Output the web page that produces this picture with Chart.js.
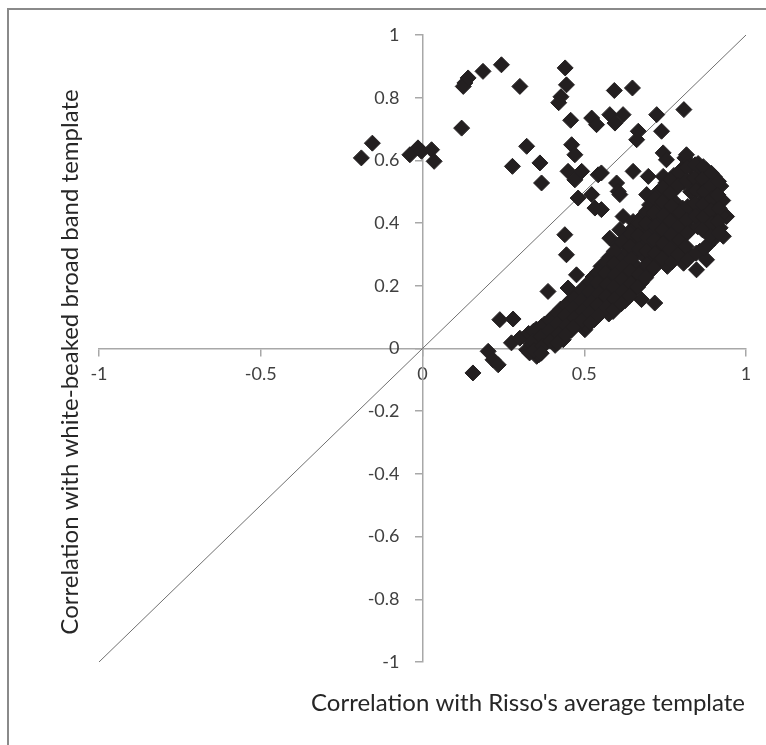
<!DOCTYPE html>
<html>
<head>
<meta charset="utf-8">
<script src="https://cdn.jsdelivr.net/npm/chart.js@4.4.1/dist/chart.umd.min.js"></script>
<style>
  html, body { margin: 0; padding: 0; background: #fff; }
  #wrap { position: relative; width: 766px; height: 745px; overflow: hidden; }
  #frame { position: absolute; left: 7px; top: 8px; width: 820px; height: 820px;
           border-left: 2px solid #8a8a8a; border-top: 2px solid #8a8a8a; }
  canvas { position: absolute; left: 0; top: 0; }
</style>
</head>
<body>
<div id="wrap">
  <div id="frame"></div>
  <canvas id="chart" width="766" height="745"></canvas>
</div>
<script>
// Each pair: [correlation with Risso's average template, correlation with white-beaked broad band template]
const upperScatter = [
  [-0.189, 0.608], [-0.155, 0.655], [-0.039, 0.618], [-0.014, 0.640], [-0.003, 0.629],
  [0.028, 0.634], [0.036, 0.597], [0.121, 0.703], [0.131, 0.847], [0.126, 0.836],
  [0.141, 0.863], [0.187, 0.884], [0.244, 0.905], [0.301, 0.836], [0.278, 0.581],
  [0.322, 0.645], [0.363, 0.592], [0.368, 0.528], [0.441, 0.895], [0.445, 0.841],
  [0.428, 0.803], [0.421, 0.784], [0.458, 0.728], [0.461, 0.650], [0.471, 0.618],
  [0.450, 0.565], [0.471, 0.538], [0.492, 0.565], [0.481, 0.480], [0.523, 0.735],
  [0.538, 0.714], [0.523, 0.491], [0.533, 0.448], [0.543, 0.554], [0.553, 0.560],
  [0.579, 0.746], [0.595, 0.719], [0.593, 0.823], [0.620, 0.746], [0.649, 0.831],
  [0.600, 0.528], [0.605, 0.501], [0.610, 0.491], [0.651, 0.565], [0.667, 0.693],
  [0.662, 0.666], [0.724, 0.746], [0.739, 0.693], [0.808, 0.762]
];

const rightScatter = [
  [0.553, 0.443], [0.579, 0.352], [0.610, 0.379], [0.620, 0.421], [0.651, 0.405],
  [0.651, 0.384], [0.698, 0.549], [0.693, 0.491], [0.703, 0.369], [0.734, 0.411],
  [0.739, 0.453], [0.744, 0.549], [0.744, 0.624], [0.749, 0.464], [0.754, 0.602],
  [0.765, 0.448], [0.811, 0.608], [0.816, 0.618], [0.821, 0.592], [0.847, 0.251],
  [0.878, 0.283], [0.930, 0.358], [0.940, 0.421], [0.677, 0.156], [0.718, 0.145],
  [0.589, 0.118]
];

const lowerTail = [
  [0.156, -0.078], [0.203, -0.009], [0.218, -0.036], [0.234, -0.052], [0.239, 0.092],
  [0.280, 0.094], [0.275, 0.018], [0.301, 0.033], [0.322, -0.004], [0.353, -0.025],
  [0.363, 0.033], [0.404, 0.044], [0.425, 0.081], [0.445, 0.113], [0.476, 0.156],
  [0.502, 0.060], [0.388, 0.182], [0.450, 0.193], [0.476, 0.235], [0.445, 0.299],
  [0.440, 0.363]
];

const mainBand = [
  [0.328, 0.048], [0.335, 0.016], [0.331, -0.014],
  [0.352, 0.062], [0.358, 0.030], [0.354, 0.002], [0.360, -0.020],
  [0.377, 0.078], [0.383, 0.047], [0.379, 0.014],
  [0.402, 0.100], [0.408, 0.068], [0.404, 0.035], [0.410, 0.010],
  [0.427, 0.126], [0.433, 0.092], [0.429, 0.058], [0.435, 0.028],
  [0.452, 0.148], [0.458, 0.118], [0.454, 0.088], [0.460, 0.058],
  [0.477, 0.172], [0.483, 0.140], [0.479, 0.108], [0.485, 0.078],
  [0.502, 0.198], [0.508, 0.165], [0.504, 0.132], [0.510, 0.100], [0.506, 0.072],
  [0.527, 0.228], [0.533, 0.195], [0.529, 0.160], [0.535, 0.126], [0.531, 0.092],
  [0.552, 0.262], [0.558, 0.226], [0.554, 0.190], [0.560, 0.152], [0.556, 0.118],
  [0.577, 0.290], [0.583, 0.255], [0.579, 0.220], [0.585, 0.182], [0.581, 0.145], [0.576, 0.110],
  [0.602, 0.330], [0.608, 0.288], [0.604, 0.250], [0.610, 0.210], [0.606, 0.172], [0.601, 0.135],
  [0.627, 0.350], [0.633, 0.310], [0.629, 0.270], [0.635, 0.232], [0.631, 0.192], [0.626, 0.152],
  [0.652, 0.380], [0.658, 0.342], [0.654, 0.300], [0.660, 0.262], [0.656, 0.222], [0.651, 0.182],
  [0.677, 0.418], [0.683, 0.378], [0.679, 0.335], [0.685, 0.294], [0.681, 0.252], [0.676, 0.210],
  [0.702, 0.458], [0.708, 0.418], [0.704, 0.372], [0.710, 0.330], [0.706, 0.285], [0.701, 0.242],
  [0.727, 0.498], [0.733, 0.452], [0.729, 0.410], [0.735, 0.362], [0.731, 0.320], [0.726, 0.272],
  [0.752, 0.528], [0.758, 0.482], [0.754, 0.440], [0.760, 0.392], [0.756, 0.350], [0.751, 0.302], [0.757, 0.262],
  [0.777, 0.552], [0.783, 0.510], [0.779, 0.468], [0.785, 0.420], [0.781, 0.378], [0.776, 0.332], [0.782, 0.290],
  [0.802, 0.572], [0.808, 0.530], [0.804, 0.448], [0.810, 0.402], [0.806, 0.360], [0.801, 0.312], [0.807, 0.272],
  [0.827, 0.582], [0.833, 0.540], [0.829, 0.500], [0.835, 0.458], [0.831, 0.418], [0.826, 0.378], [0.828, 0.298],
  [0.852, 0.590], [0.858, 0.550], [0.854, 0.510], [0.860, 0.468], [0.856, 0.428], [0.851, 0.388], [0.857, 0.310],
  [0.877, 0.570], [0.883, 0.530], [0.879, 0.490], [0.885, 0.450], [0.881, 0.410], [0.876, 0.370], [0.882, 0.330],
  [0.902, 0.548], [0.908, 0.508], [0.904, 0.468], [0.910, 0.428], [0.906, 0.388], [0.901, 0.350],
  [0.922, 0.518], [0.928, 0.472], [0.924, 0.425], [0.920, 0.385]
];

// Detections lying between the columns of the main band
const bandInfill = [
  [0.343, 0.055], [0.341, 0.023], [0.345, -0.006],
  [0.368, 0.070], [0.366, 0.038], [0.370, 0.008], [0.367, -0.015],
  [0.393, 0.089], [0.391, 0.057], [0.395, 0.024],
  [0.418, 0.113], [0.416, 0.080], [0.420, 0.046], [0.417, 0.018],
  [0.443, 0.137], [0.441, 0.105], [0.445, 0.073], [0.442, 0.043],
  [0.468, 0.160], [0.466, 0.129], [0.470, 0.098], [0.467, 0.068],
  [0.493, 0.185], [0.491, 0.152], [0.495, 0.120], [0.492, 0.089],
  [0.518, 0.213], [0.516, 0.180], [0.520, 0.146], [0.517, 0.113], [0.519, 0.082],
  [0.543, 0.245], [0.541, 0.210], [0.545, 0.175], [0.542, 0.139], [0.544, 0.105],
  [0.568, 0.276], [0.566, 0.240], [0.570, 0.205], [0.567, 0.167], [0.569, 0.131],
  [0.593, 0.310], [0.591, 0.271], [0.595, 0.235], [0.592, 0.196], [0.594, 0.158], [0.590, 0.122],
  [0.618, 0.340], [0.620, 0.260], [0.617, 0.221], [0.619, 0.182], [0.615, 0.143],
  [0.643, 0.365], [0.641, 0.326], [0.645, 0.285], [0.642, 0.247], [0.644, 0.207], [0.640, 0.167],
  [0.668, 0.399], [0.666, 0.360], [0.670, 0.317], [0.669, 0.237], [0.665, 0.196],
  [0.693, 0.438], [0.691, 0.398], [0.695, 0.353], [0.692, 0.312], [0.694, 0.268], [0.690, 0.226],
  [0.718, 0.478], [0.716, 0.435], [0.720, 0.391], [0.717, 0.346], [0.719, 0.302], [0.715, 0.257],
  [0.743, 0.513], [0.741, 0.467], [0.745, 0.425], [0.742, 0.377], [0.744, 0.335], [0.740, 0.287],
  [0.768, 0.540], [0.766, 0.496], [0.770, 0.454], [0.767, 0.406], [0.769, 0.364], [0.765, 0.317], [0.771, 0.276],
  [0.793, 0.562], [0.791, 0.520], [0.795, 0.434], [0.792, 0.390], [0.794, 0.346], [0.790, 0.301],
  [0.818, 0.577], [0.816, 0.535], [0.820, 0.453], [0.817, 0.410], [0.819, 0.369], [0.815, 0.325], [0.821, 0.285],
  [0.843, 0.586], [0.841, 0.545], [0.845, 0.505], [0.842, 0.463], [0.844, 0.423], [0.846, 0.304],
  [0.868, 0.580], [0.866, 0.540], [0.870, 0.500], [0.867, 0.459], [0.869, 0.419], [0.865, 0.379], [0.871, 0.320],
  [0.893, 0.559], [0.891, 0.519], [0.895, 0.479], [0.892, 0.439], [0.894, 0.399], [0.890, 0.360],
  [0.915, 0.533], [0.913, 0.490], [0.917, 0.447], [0.914, 0.405], [0.916, 0.368]
];

// Reference line y = x across the full axis range
const equalityLine = [[-1, -1], [1, 1]];

const xTickLabels = ['-1', '-0.5', '0', '0.5', '1'];
const yTickLabels = ['-1', '-0.8', '-0.6', '-0.4', '-0.2', '0', '0.2', '0.4', '0.6', '0.8', '1'];

const xTitle = "Correlation with Risso's average template";
const yTitle = 'Correlation with white-beaked broad band template';

const toXY = (pairs) => pairs.map(([x, y]) => ({ x, y }));
const allPoints = [].concat(upperScatter, rightScatter, lowerTail, mainBand, bandInfill);

const AXIS_GREY = '#a8a8a8';
const TICK_FONT = { family: 'Lato', size: 18 };
// Labels of an axis placed at a data value get no tick padding, so the y labels carry their own gap
const Y_LABEL_GAP = '     ';

// Axis captions sit at the page edges, away from the centred axes
const axisCaptions = {
  id: 'axisCaptions',
  afterDraw(chart) {
    const { ctx } = chart;
    ctx.save();
    ctx.font = '24px Lato';
    ctx.fillStyle = '#262626';
    ctx.textBaseline = 'alphabetic';
    ctx.textAlign = 'right';
    ctx.fillText(xTitle, 745, 711);
    ctx.translate(78, 362);
    ctx.rotate(-Math.PI / 2);
    ctx.textAlign = 'center';
    ctx.fillText(yTitle, 0, 0);
    ctx.restore();
  }
};

function axisOptions(labels, crossing, suffix) {
  return {
    type: 'linear',
    min: Number(labels[0]),
    max: Number(labels[labels.length - 1]),
    position: crossing,
    afterBuildTicks: (axis) => { axis.ticks = labels.map((t) => ({ value: Number(t) })); },
    grid: { drawOnChartArea: false, drawTicks: true, tickLength: 7, color: AXIS_GREY, lineWidth: 1.5 },
    border: { display: true, color: AXIS_GREY, width: 1.5 },
    ticks: {
      font: TICK_FONT,
      color: '#404040',
      padding: 8,
      autoSkip: false,
      maxRotation: 0,
      callback: (value, index) => labels[index] + suffix
    }
  };
}

function draw() {
  new Chart(document.getElementById('chart'), {
    type: 'scatter',
    data: {
      datasets: [
        {
          label: 'Detections',
          data: toXY(allPoints),
          pointStyle: 'rectRot',
          pointRadius: 8,
          pointBorderWidth: 1,
          backgroundColor: '#231f20',
          borderColor: '#231f20',
          order: 1
        },
        {
          label: 'y = x',
          data: toXY(equalityLine),
          showLine: true,
          pointRadius: 0,
          borderColor: '#707070',
          borderWidth: 1,
          order: 2
        }
      ]
    },
    options: {
      responsive: false,
      animation: false,
      devicePixelRatio: 1,
      layout: { padding: { left: 99, right: 20, top: 35, bottom: 83 } },
      plugins: { legend: { display: false }, tooltip: { enabled: false }, title: { display: false } },
      scales: {
        x: axisOptions(xTickLabels, { y: 0 }, ''),
        y: axisOptions(yTickLabels, { x: 0 }, Y_LABEL_GAP)
      }
    },
    plugins: [axisCaptions]
  });
}

if (document.fonts && document.fonts.load) {
  Promise.all([document.fonts.load('18px Lato'), document.fonts.load('24px Lato')]).then(draw, draw);
} else {
  draw();
}
</script>
</body>
</html>
